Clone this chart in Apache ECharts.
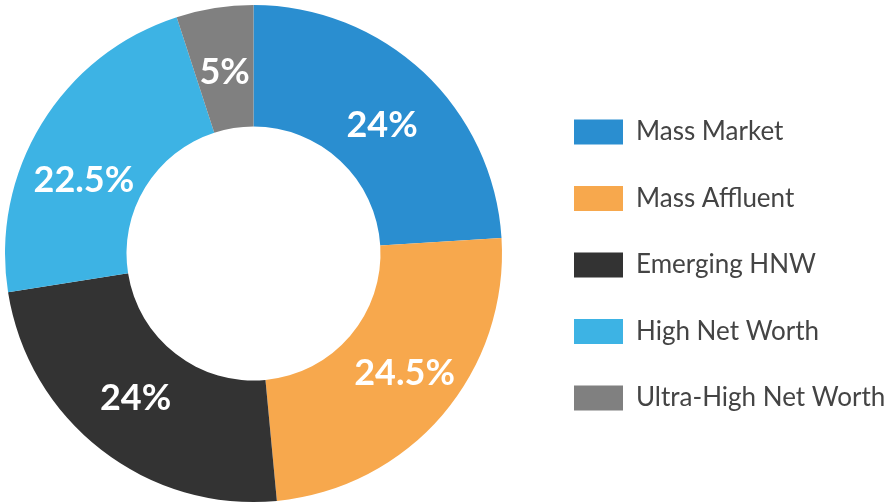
<!DOCTYPE html>
<html>
<head>
<meta charset="utf-8">
<script src="https://cdn.jsdelivr.net/npm/echarts@6/dist/echarts.min.js"></script>
<style>
html,body{margin:0;padding:0;background:#fff;}
#chart{width:890px;height:504px;}
</style>
</head>
<body>
<div id="chart"></div>
<script>
const categories = ['Mass Market', 'Mass Affluent', 'Emerging HNW', 'High Net Worth', 'Ultra-High Net Worth'];
const shares = [24, 24.5, 24, 22.5, 5];
const colors = ['#2A8ED0', '#F7A84D', '#333333', '#3DB3E4', '#808080'];
// label nudges (style only)
const labelOffsets = [[-2, 11], [6, -4], [-1, -6], [-7, 27], [1, 7]];

const chart = echarts.init(document.getElementById('chart'), null, {renderer: 'canvas'});
chart.setOption({
  animation: false,
  backgroundColor: '#ffffff',
  legend: {
    orient: 'vertical',
    left: 569,
    top: 114,
    itemWidth: 49,
    itemHeight: 25,
    itemGap: 40.5,
    icon: 'rect',
    selectedMode: false,
    data: categories,
    textStyle: {
      fontFamily: 'Lato',
      fontSize: 26,
      color: '#444444',
      padding: [0, 0, 0, 8],
      lineHeight: 25
    }
  },
  series: [{
    type: 'pie',
    center: [253.5, 253.5],
    radius: [127, 248.5],
    startAngle: 90,
    clockwise: true,
    avoidLabelOverlap: false,
    itemStyle: {borderWidth: 0},
    label: {
      show: true,
      position: 'inside',
      formatter: p => p.value + '%',
      color: '#ffffff',
      fontFamily: 'Lato',
      fontWeight: 'bold',
      fontSize: 36
    },
    labelLine: {show: false},
    emphasis: {disabled: true},
    data: categories.map((c, i) => ({
      name: c,
      value: shares[i],
      itemStyle: {color: colors[i]},
      label: {offset: labelOffsets[i]}
    }))
  }]
});
</script>
</body>
</html>
